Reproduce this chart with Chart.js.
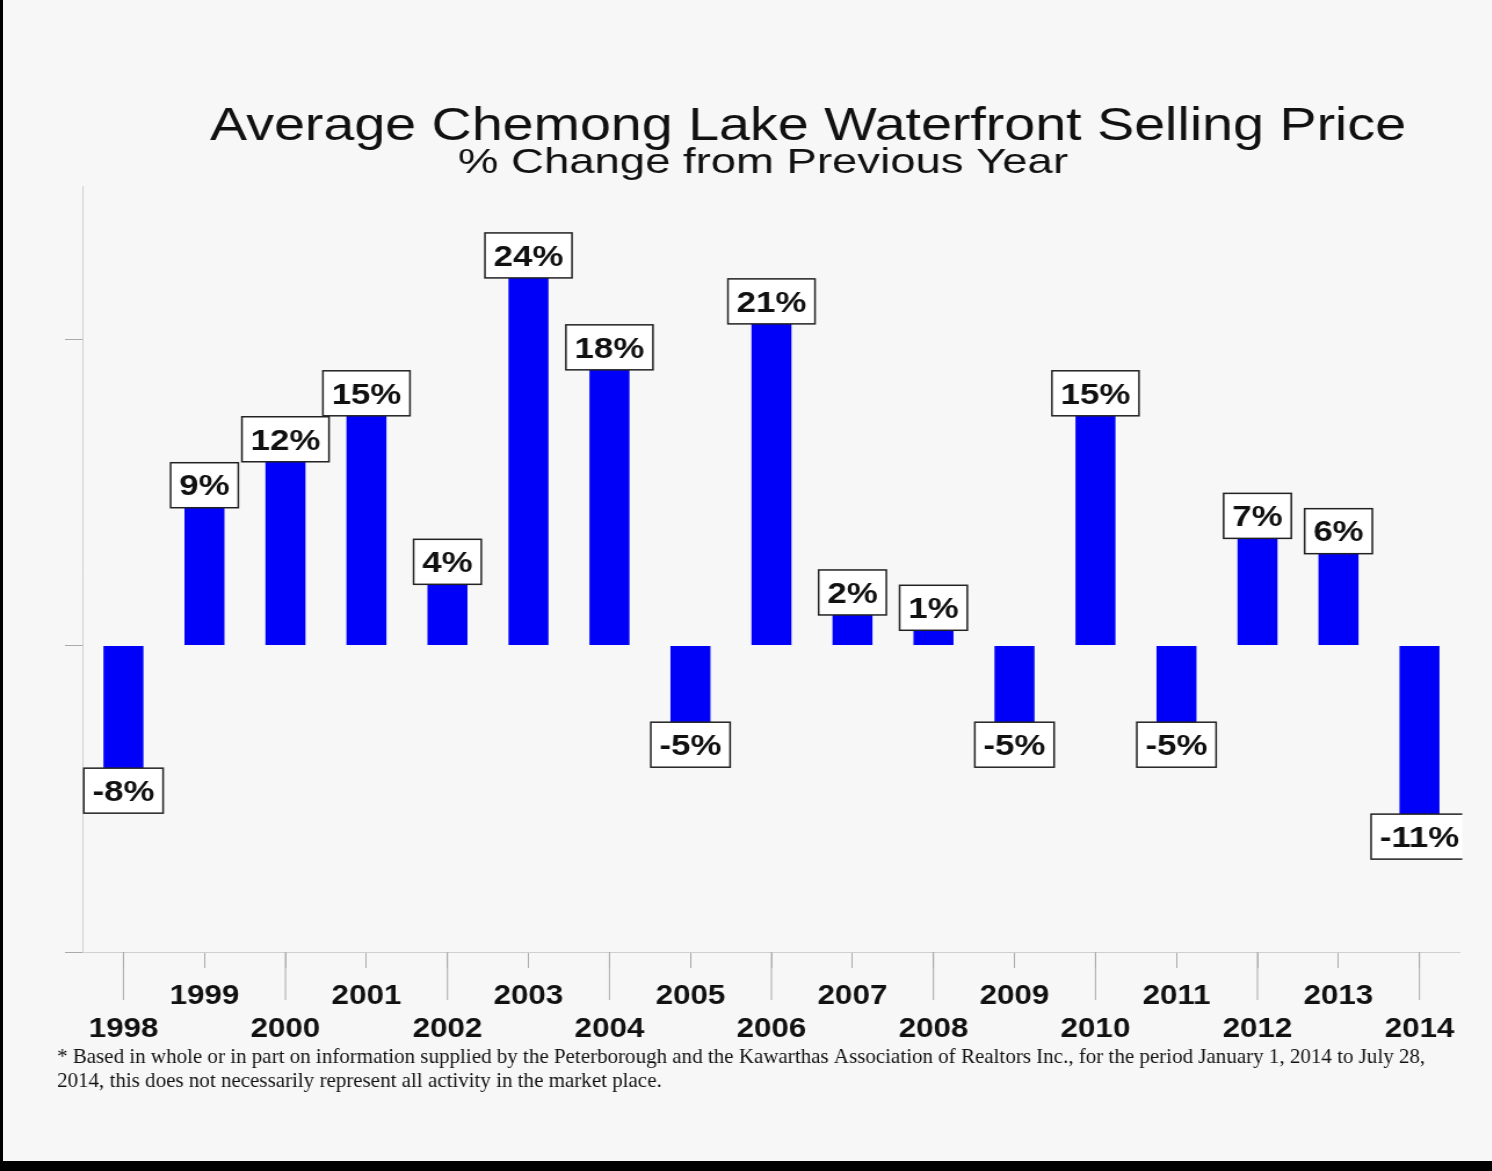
<!DOCTYPE html>
<html>
<head>
<meta charset="utf-8">
<script src="https://cdn.jsdelivr.net/npm/chart.js@4.4.1/dist/chart.umd.min.js"></script>
<style>
    html, body { margin: 0; padding: 0; background: #f7f7f7; overflow: hidden; }
    #page { position: relative; width: 1492px; height: 1171px; }
    #wrap { position: absolute; left: 0; top: 0; width: 1286px; height: 1171px; transform: scaleX(1.16); transform-origin: 0 0; }
    #leftEdge { position: absolute; left: 0; top: 0; width: 3px; height: 1171px; background: #000; }
    #bottomEdge { position: absolute; left: 0; top: 1161px; width: 1492px; height: 10px; background: #000; }
</style>
</head>
<body>
<div id="page">
    <div id="wrap"><canvas id="priceChart"></canvas></div>
    <div id="leftEdge"></div>
    <div id="bottomEdge"></div>
</div>
<script>
// Data
const years = ['1998', '1999', '2000', '2001', '2002', '2003', '2004', '2005', '2006',
    '2007', '2008', '2009', '2010', '2011', '2012', '2013', '2014'];
const changes = [-8, 9, 12, 15, 4, 24, 18, -5, 21, 2, 1, -5, 15, -5, 7, 6, -11];
const yTicks = [-20, 0, 20];

const titleText = 'Average Chemong Lake Waterfront Selling Price';
const subtitleText = '% Change from Previous Year';
const noteLines = [
    '* Based in whole or in part on information supplied by the Peterborough and the Kawarthas Association of Realtors Inc., for the period January 1, 2014 to July 28,',
    '2014, this does not necessarily represent all activity in the market place.'
];

const STRETCH = 1.16;

// odd years sit on the upper row, even years on the lower row
const xLabels = years.map((y, i) => i % 2 === 0 ? ['', y] : [y, '']);

// draw text squeezed/stretched horizontally around its anchor
function stretchedText(ctx, text, x, y, sx) {
    ctx.save();
    ctx.translate(x, y);
    ctx.scale(sx, 1);
    ctx.fillText(text, 0, 0);
    ctx.restore();
}

// Titles and footnote
const textPlugin = {
    id: 'texts',
    afterDraw(chart) {
        const ctx = chart.ctx;
        ctx.save();
        ctx.fillStyle = '#111';
        ctx.textAlign = 'center';
        ctx.textBaseline = 'alphabetic';
        ctx.font = '46px "Liberation Sans", Arial, sans-serif';
        stretchedText(ctx, titleText, 696.6, 140, 1.042);
        ctx.font = '35px "Liberation Sans", Arial, sans-serif';
        stretchedText(ctx, subtitleText, 657.8, 173, 1.12);
        // footnote is not stretched like the rest
        ctx.textAlign = 'left';
        ctx.font = '21px "Liberation Serif", "Times New Roman", serif';
        stretchedText(ctx, noteLines[0], 57 / STRETCH, 1063, 1 / STRETCH);
        stretchedText(ctx, noteLines[1], 57 / STRETCH, 1087, 1 / STRETCH);
        ctx.restore();
    }
};

// long tick marks under even years
const longTicks = {
    id: 'longTicks',
    afterDraw(chart) {
        const ctx = chart.ctx;
        const xs = chart.scales.x;
        ctx.save();
        ctx.strokeStyle = '#aaa';
        ctx.lineWidth = 1;
        xs.ticks.forEach((t, i) => {
            if (i % 2 !== 0) return;
            const px = xs.getPixelForTick(i);
            ctx.beginPath();
            ctx.moveTo(px, xs.top);
            ctx.lineTo(px, xs.top + 48);
            ctx.stroke();
        });
        ctx.restore();
    }
};

// boxed value labels at the end of each bar
const boxLabels = {
    id: 'boxLabels',
    afterDatasetsDraw(chart) {
        const ctx = chart.ctx;
        const meta = chart.getDatasetMeta(0);
        const area = chart.chartArea;
        ctx.save();
        ctx.beginPath();
        ctx.rect(0, 0, area.right + 2, chart.height);
        ctx.clip();
        ctx.font = 'bold 30px "Liberation Sans", Arial, sans-serif';
        ctx.textAlign = 'center';
        ctx.textBaseline = 'middle';
        meta.data.forEach((bar, i) => {
            const v = changes[i];
            const txt = v + '%';
            const w = ctx.measureText(txt).width + 15;
            const h = 45;
            const top = v >= 0 ? bar.y - h : bar.y;
            ctx.fillStyle = '#fff';
            ctx.fillRect(bar.x - w / 2, top, w, h);
            ctx.strokeStyle = '#222';
            ctx.lineWidth = 1.5;
            ctx.strokeRect(bar.x - w / 2, top, w, h);
            ctx.fillStyle = '#111';
            ctx.fillText(txt, bar.x, top + h / 2 + 2);
        });
        ctx.restore();
    }
};

const ctx = document.getElementById('priceChart').getContext('2d');
const chart = new Chart(ctx, {
    type: 'bar',
    data: {
        labels: xLabels,
        datasets: [{
            data: changes,
            backgroundColor: '#0000f8',
            borderWidth: 0,
            barPercentage: 0.494,
            categoryPercentage: 1.0
        }]
    },
    options: {
        responsive: true,
        maintainAspectRatio: false,
        animation: false,
        layout: { padding: { left: 56, right: 27.4, top: 186, bottom: 119 } },
        plugins: {
            legend: { display: false },
            title: { display: false },
            tooltip: { enabled: false }
        },
        scales: {
            x: {
                afterFit: s => { s.height = 100; },
                grid: {
                    offset: false,
                    drawOnChartArea: false,
                    drawTicks: true,
                    tickLength: 16,
                    tickColor: '#aaa'
                },
                border: { color: '#cfcfcf', width: 1 },
                ticks: {
                    autoSkip: false,
                    maxRotation: 0,
                    padding: 12,
                    color: '#111',
                    font: { family: '"Liberation Sans", Arial, sans-serif', size: 27, weight: 'bold', lineHeight: '33px' }
                }
            },
            y: {
                min: -20,
                max: 30,
                afterFit: s => { s.width = 15.5; },
                afterBuildTicks: s => { s.ticks = yTicks.map(v => ({ value: v })); },
                grid: {
                    drawOnChartArea: false,
                    drawTicks: true,
                    tickLength: 15.5,
                    tickColor: '#aaa'
                },
                border: { color: '#cfcfcf', width: 1 },
                ticks: { display: false }
            }
        }
    },
    plugins: [textPlugin, longTicks, boxLabels]
});
</script>
</body>
</html>
